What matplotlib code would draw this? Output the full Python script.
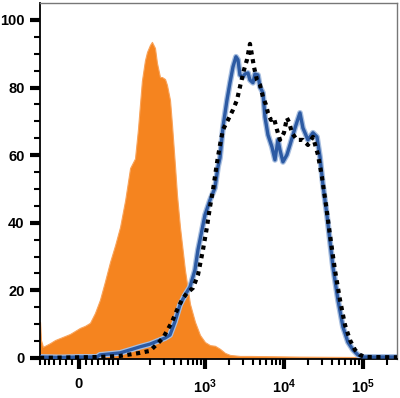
import matplotlib
matplotlib.use('Agg')
import matplotlib.pyplot as plt
import numpy as np

plt.rcParams['font.family'] = ['Liberation Sans', 'DejaVu Sans']
plt.rcParams['mathtext.fontset'] = 'custom'
plt.rcParams['mathtext.rm'] = 'Liberation Sans:bold'
plt.rcParams['mathtext.bf'] = 'Liberation Sans:bold'
plt.rcParams['mathtext.it'] = 'Liberation Sans:bold'

# isotype control (orange, filled)
iso_x = [-71, -68.6, -63.7, -59, -48, -38.5, -29.6, -21.3, -13.5, -5.9, 1.5, 8.9,
         16.6, 24.5, 33, 42, 52.5, 64, 76.5, 91, 107, 125, 137, 146, 155, 170,
         181, 198, 210, 230, 244, 267, 283, 310, 328, 359, 381, 415, 441, 481,
         557, 645, 746, 864, 1000, 1157, 1338, 1549, 1792, 2073, 2774, 3713,
         15950, 68520, 270000]
iso_y = [10.7, 5.3, 3.3, 3.6, 4.4, 5.3, 5.9, 6.5, 7.1, 8.0, 8.9, 9.5,
         10.4, 13.3, 17.2, 22.5, 28.4, 33.4, 38.8, 46.7, 56.2, 59, 67.5, 75, 82, 88,
         90.5, 92.6, 93.5, 91.7, 87.3, 83.1, 83.1, 82.5, 80.8, 76.3, 68.9, 57.1, 48.2, 38.8,
         26, 16, 10.7, 6.8, 4.7, 3.8, 3.6, 2.7, 1.5, 0.9, 0.6, 0.6,
         0.4, 0.3, 0.3]

# stained sample (blue line)
blue_x = [-71, -29.6, 1.5, 27.9, 33, 52.5, 76.5, 107, 146, 198, 267, 310, 359,
          415, 481, 557, 645, 746, 815, 864, 1000, 1157, 1338, 1461, 1549, 1690,
          1899, 2073, 2262, 2469, 2617, 2774, 3027, 3209, 3502, 3713, 4052, 4296,
          4687, 4970, 5424, 5750, 6274, 7049, 7696, 8397, 8904, 9713, 10910, 11920,
          13790, 15950, 17400, 18460, 20130, 23280, 26170, 28580, 31170, 35020,
          41720, 48270, 55830, 64570, 74710, 86450, 100000, 270000]
blue_y = [0.3, 0.15, 0.3, 0.3, 0.9, 1.2, 1.5, 2.4, 3.3, 4.1, 5.3, 5.9, 6.8,
          10.7, 15.7, 18.6, 21, 26, 32, 34.9, 42.3, 46.7, 50.3, 56.5, 59.2, 68.3,
          76.3, 81.4, 86.1, 89.1, 88.2, 83.7, 83.1, 84.0, 84.3, 82.2, 81.4, 84.0,
          83.7, 80.2, 78.4, 71.3, 66.0, 62.4, 58.6, 64.5, 61.5, 58.0, 60.1, 63.0,
          68.0, 72.5, 68.0, 66.6, 64.5, 66.6, 65.4, 59.5, 51.2, 42.3,
          26.9, 17.2, 9.2, 4.7, 2.4, 0.9, 0.3, 0.3]

# second stained sample (black dotted)
dot_x = [-71, 33, 76.5, 146, 198, 244, 292, 328, 381, 441, 510, 590, 703, 815,
         943, 1060, 1157, 1263, 1419, 1549, 1690, 1955, 2262, 2542, 2774, 3117,
         3401, 3713, 3935, 4172, 4552, 4970, 5424, 5918, 6274, 6846, 7471, 8152,
         8904, 10000, 10910, 11570, 12630, 14610, 17400, 20130, 23280, 26940,
         30270, 34010, 38250, 44250, 51200, 59230, 68520, 79270, 91710, 106100,
         270000]
dot_y = [0, 0.3, 0.6, 1.5, 2.1, 4.1, 5.9, 8.0, 10.7, 14.2, 17.2, 19.2, 20.7, 24.6,
         32, 38.8, 44.7, 49.7, 57.7, 63, 67.5, 70.4, 73.4, 76.3, 80.2, 85.2,
         88.2, 92.9, 89.6, 86.1, 82.2, 80.8, 77.2, 74.9, 72.5, 70.4, 71, 67.5,
         64.5, 66.6, 71, 69.8, 66.6, 64.5, 64.5, 63, 65.4, 60.1,
         53.6, 45.3, 36.4, 26, 17.2, 9.8, 5.3, 2.4, 0.9, 0.3,
         0.2]

major_x = [0, 1e3, 1e4, 1e5]
major_labels = ['0', r'$10^{3}$', r'$10^{4}$', r'$10^{5}$']
minor_x = ([-70, -60, -50, -40, -30, -20, -10, 10, 20, 30, 40, 50, 60, 70]
           + [200, 300, 400, 500, 600, 700, 800, 900]
           + [2000, 3000, 4000, 5000, 6000, 7000, 8000, 9000]
           + [20000, 30000, 40000, 50000, 60000, 70000, 80000, 90000, 200000])

W = 50.8  # linear width of the biexponential-like axis


def fwd(v):
    return np.arcsinh(np.asarray(v, dtype=float) / W)


def inv(u):
    return W * np.sinh(u)


fig = plt.figure(figsize=(4.0, 3.98), dpi=100)
ax = fig.add_axes([0.1, 0.098, 0.8925, 0.8945])
ax.set_xscale('function', functions=(fwd, inv))

ax.fill_between(iso_x, iso_y, 0, color='#f5841f', lw=0.8, ec='#f9a35a', zorder=1)
ax.plot(blue_x, blue_y, color='#a8bfe0', lw=4.2, solid_joinstyle='round', zorder=2)
ax.plot(blue_x, blue_y, color='#2c5aa3', lw=2.4, solid_joinstyle='round', zorder=3)
ax.plot(dot_x, dot_y, color='black', lw=3.0, ls=(0, (1, 1.1)), zorder=4)

ax.set_xlim(-71, 2.7e5)
ax.set_ylim(-0.3, 105)

ax.set_xticks(major_x)
ax.set_xticklabels(major_labels)
ax.set_xticks(minor_x, minor=True)
ax.set_yticks(range(0, 101, 20))
ax.set_yticks(range(0, 101, 5), minor=True)

ax.tick_params(axis='both', which='major', length=7, width=3, labelsize=10.5,
               color='black')
ax.tick_params(axis='both', which='minor', length=4, width=1.5, color='black')
ax.tick_params(axis='x', which='major', pad=6)
ax.tick_params(axis='y', which='major', pad=4)
for lab in ax.get_xticklabels() + ax.get_yticklabels():
    lab.set_fontweight('bold')

for s in ['top', 'right']:
    ax.spines[s].set_color('#777777')
    ax.spines[s].set_linewidth(1.0)
for s in ['left', 'bottom']:
    ax.spines[s].set_color('black')
    ax.spines[s].set_linewidth(1.3)

fig.savefig('out.png', dpi=100)
